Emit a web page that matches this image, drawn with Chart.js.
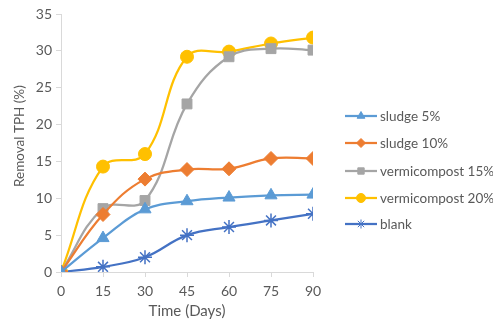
<!DOCTYPE html>
<html>
<head>
<meta charset="utf-8">
<script src="https://cdn.jsdelivr.net/npm/chart.js@4/dist/chart.umd.min.js"></script>
<style>
  html, body { margin: 0; padding: 0; background: #fff; }
  #wrap { width: 493px; height: 324px; }
</style>
</head>
<body>
<div id="wrap"><canvas id="chart" width="493" height="324"></canvas></div>
<script>
const days = [0, 15, 30, 45, 60, 75, 90]
const sludge5 = [0, 4.6, 8.5, 9.6, 10.1, 10.4, 10.5]
const sludge10 = [0, 7.8, 12.6, 13.9, 14.0, 15.4, 15.4]
const vermi15 = [0, 8.6, 9.7, 22.8, 29.2, 30.3, 30.1]
const vermi20 = [0, 14.3, 16.0, 29.2, 29.9, 31.0, 31.8]
const blank = [0, 0.7, 2.0, 5.0, 6.1, 7.0, 7.9]
const yTicks = [0, 5, 10, 15, 20, 25, 30, 35]

const textColor = '#595959'
const axisColor = '#d9d9d9'
const fontFamily = 'Lato, "Open Sans", sans-serif'

function series(label, values, color, pointStyle, radius) {
  return {
    label: label,
    data: days.map((d, i) => ({ x: d, y: values[i] })),
    borderColor: color,
    backgroundColor: color,
    pointBackgroundColor: color,
    pointBorderColor: color,
    pointStyle: pointStyle,
    pointRadius: radius,
    pointBorderWidth: pointStyle === 'star' ? 1.5 : 1,
    borderWidth: 2.25,
    tension: 0.4,
    fill: false
  }
}

const datasets = [
  series('sludge 5%', sludge5, '#5B9BD5', 'triangle', 7),
  series('sludge 10%', sludge10, '#ED7D31', 'rectRot', 7),
  series('vermicompost 15%', vermi15, '#A5A5A5', 'rect', 7),
  series('vermicompost 20%', vermi20, '#FFC000', 'circle', 6.5),
  series('blank', blank, '#4472C4', 'star', 7)
]

// legend drawn like the spreadsheet one: short line with marker, then text
const sideLegend = {
  id: 'sideLegend',
  afterDraw(chart) {
    const ctx = chart.ctx
    const rowY = [116, 143, 171, 198, 224]
    ctx.save()
    chart.data.datasets.forEach((ds, i) => {
      const y = rowY[i]
      ctx.strokeStyle = ds.borderColor
      ctx.lineWidth = 2.25
      ctx.beginPath()
      ctx.moveTo(345, y)
      ctx.lineTo(377, y)
      ctx.stroke()
      ctx.fillStyle = ds.backgroundColor
      ctx.lineWidth = 1
      Chart.helpers.drawPoint(ctx, { pointStyle: ds.pointStyle, radius: 4.5, rotation: 0, borderWidth: 1 }, 361, y)
      ctx.fillStyle = textColor
      ctx.font = '13.5px ' + fontFamily
      ctx.textBaseline = 'middle'
      ctx.textAlign = 'left'
      ctx.fillText(ds.label, 380, y + 1)
    })
    ctx.restore()
  }
}

new Chart(document.getElementById('chart'), {
  type: 'line',
  data: { datasets: datasets },
  options: {
    responsive: false,
    animation: false,
    layout: { padding: { top: 14, right: 180, bottom: 0, left: 0 } },
    plugins: {
      legend: { display: false },
      tooltip: { enabled: false }
    },
    scales: {
      x: {
        type: 'linear',
        min: 0,
        max: 90,
        afterFit: scale => { scale.height = 52 },
        ticks: { stepSize: 15, color: textColor, font: { family: fontFamily, size: 14 }, padding: 6 },
        grid: { drawOnChartArea: false, color: axisColor, tickLength: 5 },
        border: { color: axisColor },
        title: { display: true, text: 'Time (Days)', color: textColor, font: { family: fontFamily, size: 15 }, padding: { top: 0 } }
      },
      y: {
        min: 0,
        max: 35,
        afterFit: scale => { scale.width = 61 },
        afterBuildTicks: scale => { scale.ticks = yTicks.map(v => ({ value: v })) },
        ticks: { color: textColor, font: { family: fontFamily, size: 14 }, padding: 4 },
        grid: { drawOnChartArea: false, color: axisColor, tickLength: 5 },
        border: { color: axisColor },
        title: { display: true, text: '    Removal TPH (%)', color: textColor, font: { family: fontFamily, size: 13.5 }, padding: { top: 12, bottom: 0 } }
      }
    }
  },
  plugins: [sideLegend]
})
</script>
</body>
</html>
